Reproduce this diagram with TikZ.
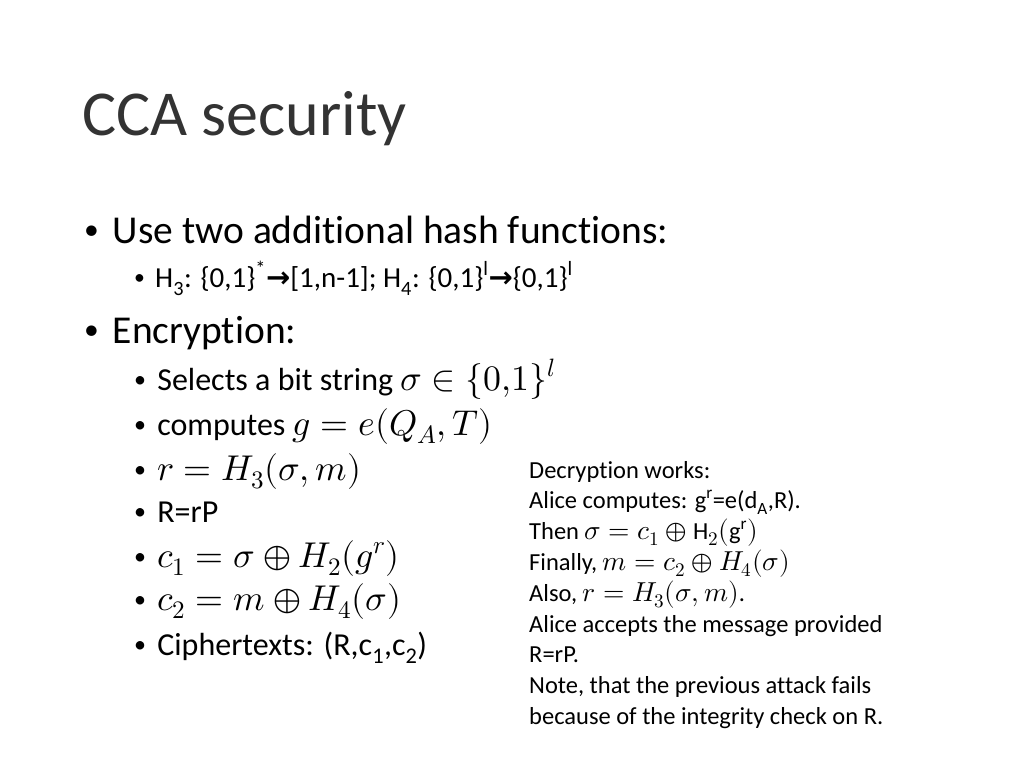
\documentclass[tikz,border=0pt]{standalone}
\usepackage{fontspec}
\usepackage{unicode-math}
\setmainfont[RawFeature={-liga;-dlig}]{Carlito}
\setmathfont[Scale=1.12]{Latin Modern Math}
\newfontfamily\dejavub{DejaVu Sans Bold}
\newcommand{\bul}{{\fontsize{0.75em}{1em}\selectfont\raisebox{0.12em}{•}}\hspace{0.35em}}
\newcommand{\harr}{{\dejavub →}}
\begin{document}
\begin{tikzpicture}[x=1pt,y=-1pt,
  tl/.style={anchor=base west,inner sep=0pt,font=\fontsize{64}{70}\selectfont,text=black!80},
  la/.style={anchor=base west,inner sep=0pt,font=\fontsize{39.5}{46}\selectfont},
  lb/.style={anchor=base west,inner sep=0pt,font=\fontsize{29}{36}\selectfont},
  lc/.style={anchor=base west,inner sep=0pt,font=\fontsize{32}{38}\selectfont},
  rt/.style={anchor=base west,inner sep=0pt,font=\fontsize{24.5}{30}\selectfont}]
\useasboundingbox[fill=white] (0,0) rectangle (1024,768);
\node[tl] (title) at (82,135) {CCA security};
\node[la] (b1) at (84,243) {\bul Use two additional hash functions:};
\node[lb] (h) at (134,287) {\bul H\textsubscript{3}: \{0,1\}\textsuperscript{*}\harr[1,n-1]; H\textsubscript{4}: \{0,1\}\textsuperscript{l}\harr\{0,1\}\textsuperscript{l}};
\node[la] (b2) at (84,343) {\bul Encryption:};
\node[lc] (e1) at (134,390) {\bul Selects a bit string $\sigma\in\{0{,}1\}^l$};
\node[lc] (e2) at (134,435) {\bul computes $g=e(Q_A,T)$};
\node[lc] (e3) at (134,480) {\bul $r=H_3(\sigma,m)$};
\node[lc] (e4) at (134,522) {\bul R=rP};
\node[lc] (e5) at (134,567) {\bul $c_1=\sigma\oplus H_2(g^r)$};
\node[lc] (e6) at (134,610) {\bul $c_2=m\oplus H_4(\sigma)$};
\node[lc] (e7) at (134,655) {\bul Ciphertexts: (R,c\textsubscript{1},c\textsubscript{2})};
\node[rt] (d1) at (529,478) {Decryption works:};
\node[rt] (d2) at (529,508) {Alice computes: g\textsuperscript{r}=e(d\textsubscript{A},R).};
\node[rt] (d3) at (529,539) {Then $\sigma=c_1\oplus\mathrm{H}_2(\mathrm{g}^\mathrm{r})$};
\node[rt] (d4) at (529,570) {Finally, $m=c_2\oplus H_4(\sigma)$};
\node[rt] (d5) at (529,601) {Also, $r=H_3(\sigma,m)$.};
\node[rt] (d6) at (529,632) {Alice accepts the message provided};
\node[rt] (d7) at (529,662) {R=rP.};
\node[rt] (d8) at (529,693) {Note, that the previous attack fails};
\node[rt] (d9) at (529,724) {because of the integrity check on R.};
\end{tikzpicture}
\end{document}
